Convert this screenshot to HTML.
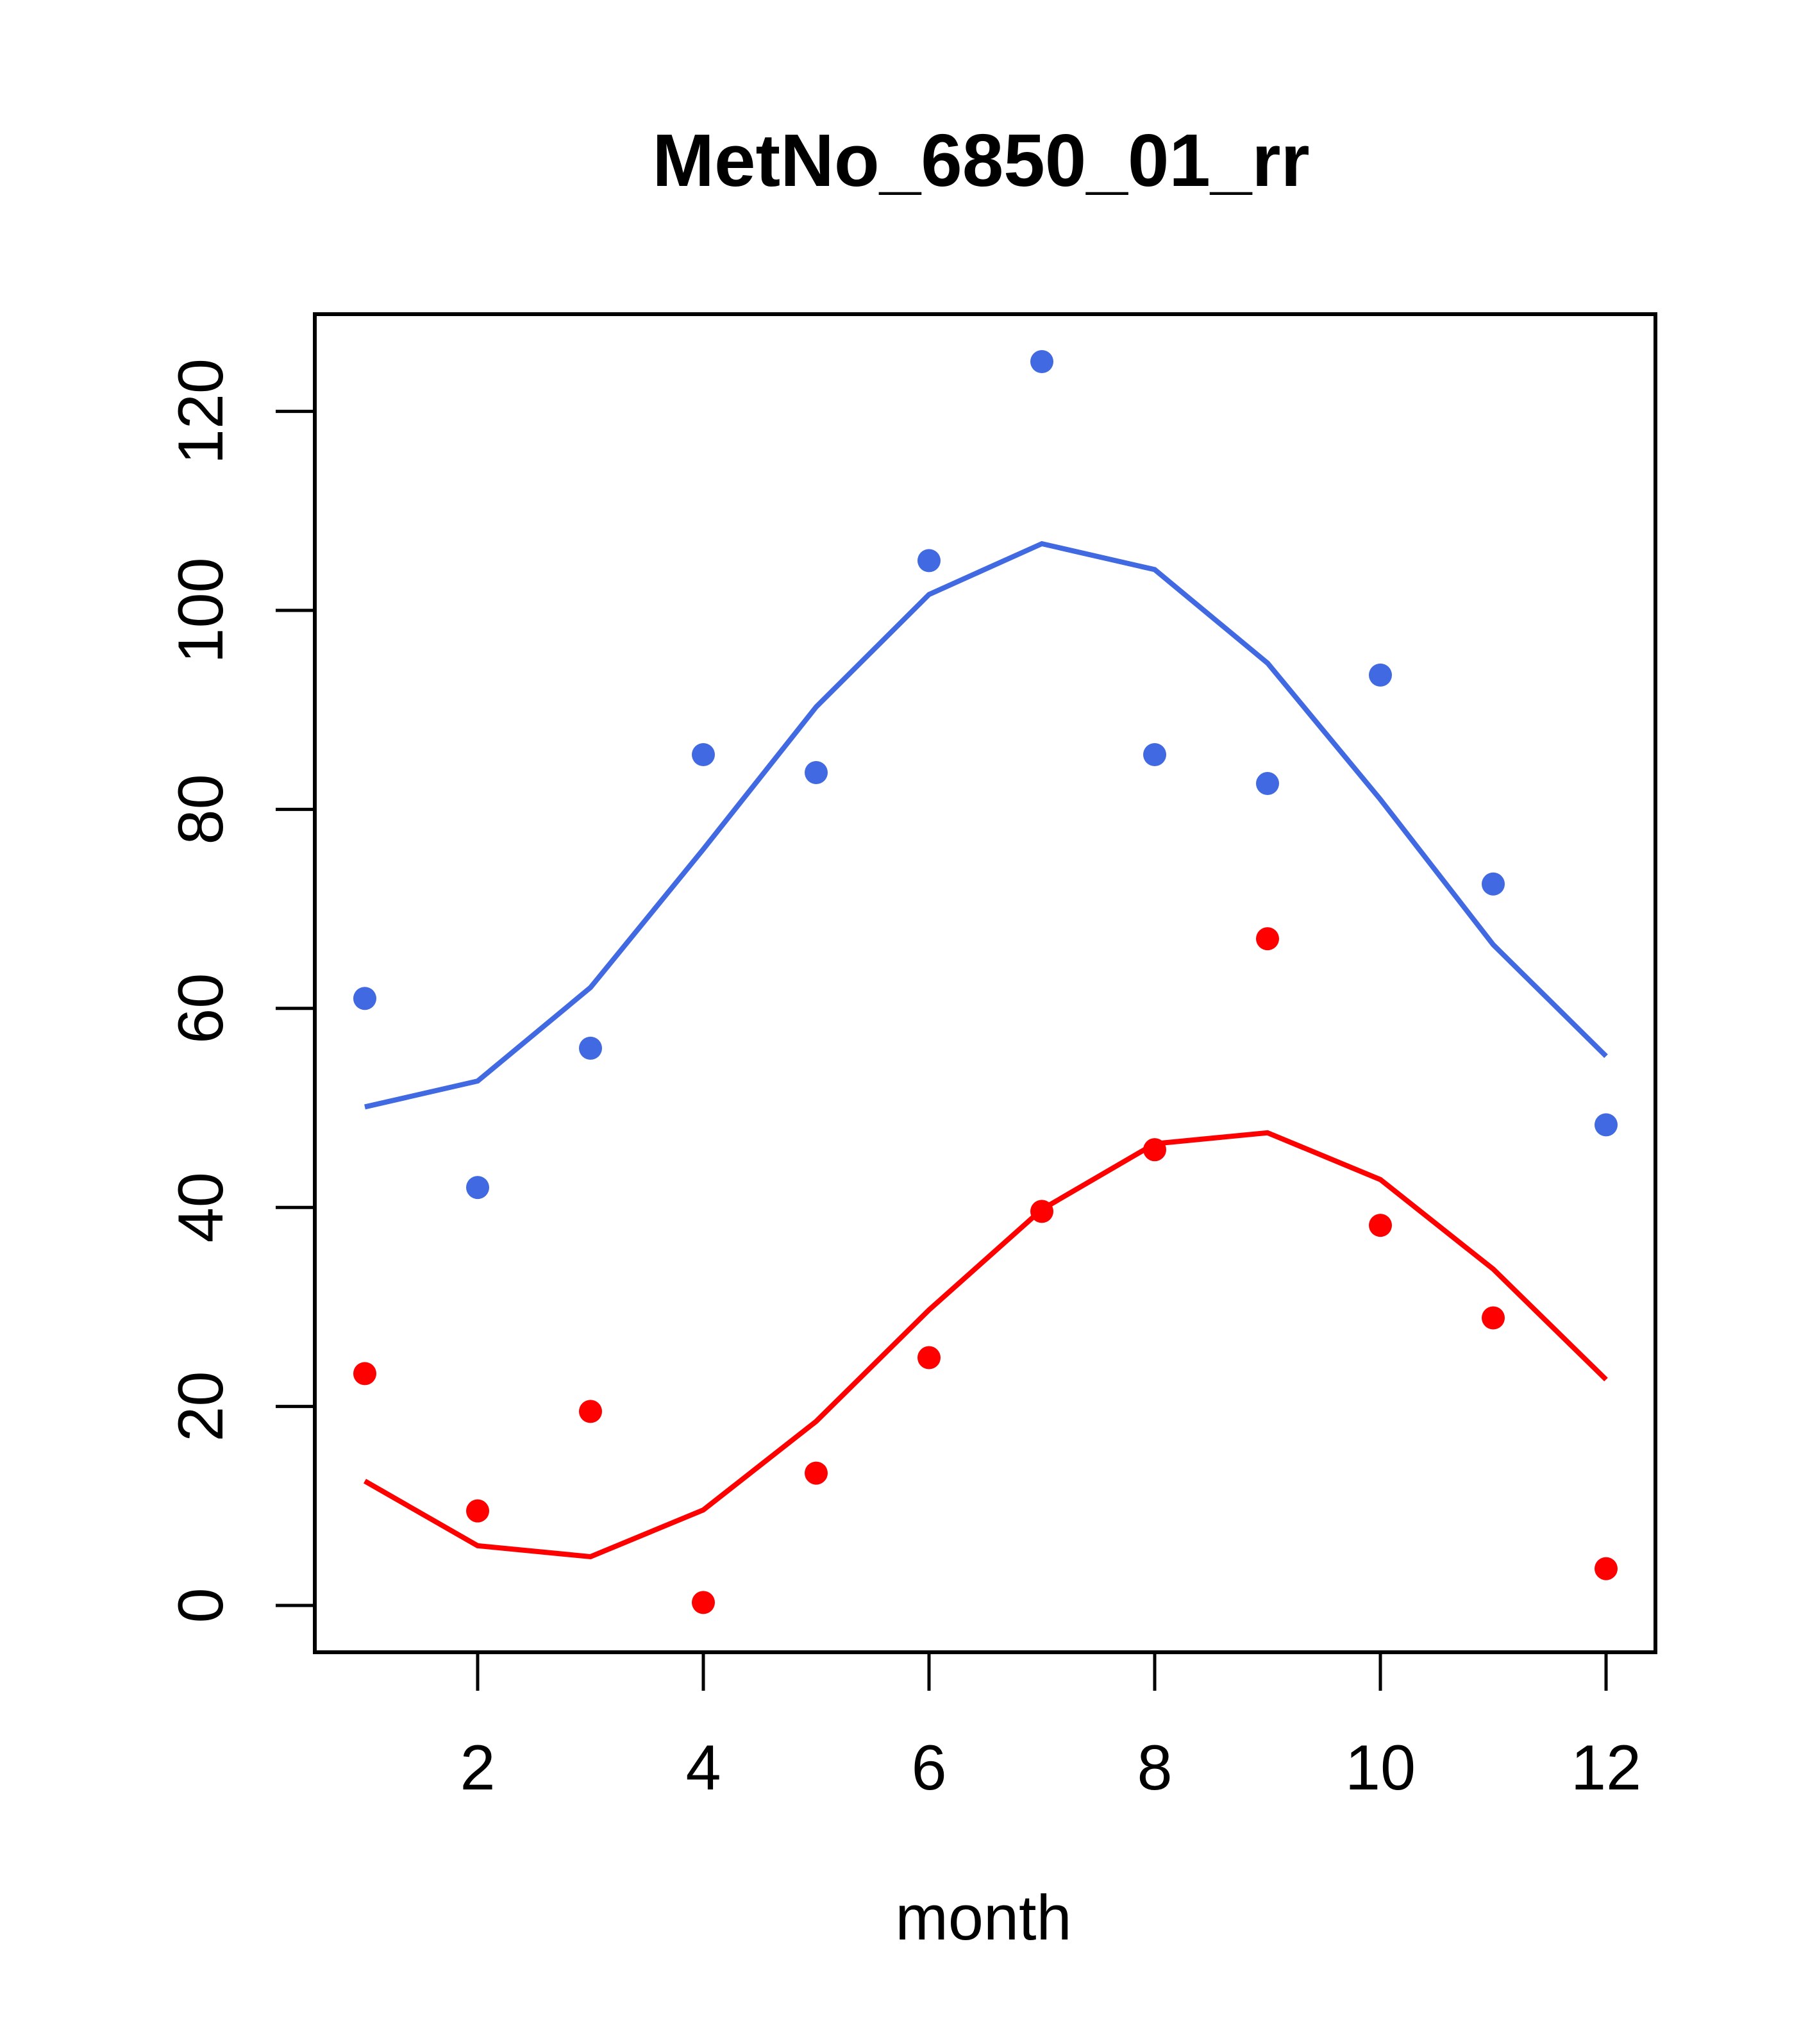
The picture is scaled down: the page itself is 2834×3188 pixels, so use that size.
<!DOCTYPE html>
<html><head><meta charset="utf-8"><style>
html,body{margin:0;padding:0;background:#fff}
svg{display:block}
text{font-family:"Liberation Sans",Arial,sans-serif}
</style></head><body>
<svg id="chart" width="2834" height="3188" viewBox="0 0 2834 3188">
<text x="1530" y="290" text-anchor="middle" font-size="116" font-weight="bold">MetNo_6850_01_rr</text>
<rect x="491" y="490" width="2091" height="2087" fill="none" stroke="#000" stroke-width="6"/>
<g id="xaxis"></g>
<g id="yaxis"></g>
<text x="1534" y="3025" text-anchor="middle" font-size="99">month</text>
<g id="series"></g>
</svg>
<script>
const months=[1,2,3,4,5,6,7,8,9,10,11,12];
const xTicks=[2,4,6,8,10,12];
const yTicks=[0,20,40,60,80,100,120];
const bluePoints=[61,42,56,85.5,83.7,105,125,85.5,82.6,93.5,72.5,48.3];
const blueLine=[50.1,52.7,62.1,76,90.3,101.6,106.7,104.1,94.7,81,66.4,55.2];
const redPoints=[23.3,9.5,19.5,0.3,13.3,24.9,39.6,45.8,67,38.2,28.9,3.7];
const redLine=[12.5,6,4.9,9.6,18.5,29.7,39.8,46.4,47.5,42.8,33.8,22.7];
const NS='http://www.w3.org/2000/svg';
function sx(m){return 745+(m-2)*176;}
function sy(v){return 2504-v*15.52;}
function mk(tag,attrs,parent){const e=document.createElementNS(NS,tag);for(const k in attrs)e.setAttribute(k,attrs[k]);parent.appendChild(e);return e;}
const xa=document.getElementById('xaxis'),ya=document.getElementById('yaxis'),sg=document.getElementById('series');
xTicks.forEach(t=>{
  const l=mk('line',{x1:sx(t),x2:sx(t),y1:2577,y2:2637,stroke:'#000','stroke-width':5},xa);
  
  
  const tx=mk('text',{x:sx(t),y:2791,'text-anchor':'middle','font-size':99},xa);
  tx.textContent=t;
  
  
});
yTicks.forEach(t=>{
  const l=mk('line',{x1:430,x2:491,y1:sy(t),y2:sy(t),stroke:'#000','stroke-width':5},ya);
  
  
  const tx=mk('text',{x:0,y:0,'text-anchor':'middle','font-size':99,transform:`translate(347,${sy(t)}) rotate(-90)`},ya);
  tx.textContent=t;
  
  
});
function drawLine(vals,color,name){
  const p=mk('polyline',{points:vals.map((v,i)=>sx(months[i])+','+sy(v)).join(' '),fill:'none',stroke:color,'stroke-width':8},sg);
  
  
}
function drawPts(vals,color,name){
  vals.forEach((v,i)=>{
    const c=mk('circle',{cx:sx(months[i]),cy:sy(v),r:18,fill:color},sg);
    
    
  });
}
drawLine(blueLine,'#4169E1','blue-smooth-line');
drawLine(redLine,'#FF0000','red-smooth-line');
drawPts(bluePoints,'#4169E1','blue-point');
drawPts(redPoints,'#FF0000','red-point');
</script>
</body></html>
